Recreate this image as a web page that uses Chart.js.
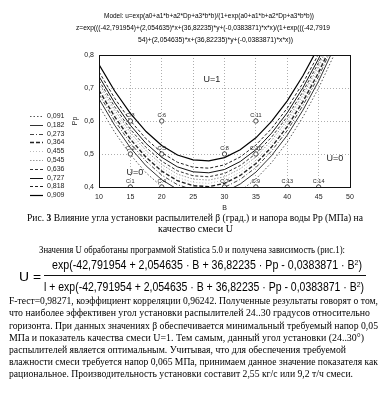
<!DOCTYPE html>
<html><head><meta charset="utf-8">
<script src="https://cdn.jsdelivr.net/npm/chart.js@4/dist/chart.umd.min.js"></script>
<style>
html,body{margin:0;padding:0;background:#fff;width:386px;height:394px;overflow:hidden;}
#wrap{position:relative;width:386px;height:394px;}
canvas{position:absolute;left:0;top:0;}
.ln{position:absolute;white-space:nowrap;color:#000;line-height:1;}
.sans{font-family:"Liberation Sans",Arial,sans-serif;}
.serif{font-family:"Liberation Serif","Times New Roman",serif;}
.bar{position:absolute;height:1px;background:#111;}
sup{font-size:0.65em;vertical-align:0.55em;line-height:0;}
</style></head>
<body><div id="wrap">
<canvas id="c" width="386" height="217"></canvas>

<div class="ln sans" data-x="104" data-w="210" data-y="16" style="font-size:6.5px">Model: u=exp(a0+a1*b+a2*Dp+a3*b*b)/(1+exp(a0+a1*b+a2*Dp+a3*b*b))</div>
<div class="ln sans" data-x="76" data-w="254" data-y="28" style="font-size:6.5px">z=exp(((-42,791954)+(2,054635)*x+(36,82235)*y+(-0,0383871)*x*x)/(1+exp(((-42,7919</div>
<div class="ln sans" data-x="138" data-w="155" data-y="40" style="font-size:6.5px">54)+(2,054635)*x+(36,82235)*y+(-0,0383871)*x*x))</div>

<div class="ln serif" data-x="27" data-w="336" data-y="218" style="font-size:10px">Рис. <b>3</b> Влияние угла установки распылителей β (град.) и напора воды Рр (МПа) на</div>
<div class="ln serif" data-x="158" data-w="75" data-y="229" style="font-size:10px">качество смеси U</div>

<div class="ln serif" data-x="39" data-w="306" data-y="250" style="font-size:10px">Значения U обработаны программой Statistica 5.0 и получена зависимость (рис.1):</div>
<div class="ln sans" data-x="19" data-w="22" data-y="276" style="font-size:13px">U =</div>
<div class="ln sans" data-x="52" data-w="310" data-y="265" style="font-size:12.5px">exp(-42,791954 + 2,054635 · B + 36,82235 · Pp - 0,0383871 · B<sup>2</sup>)</div>
<div class="bar" style="left:44px;top:275px;width:322px"></div>
<div class="ln sans" data-x="44" data-w="320" data-y="287" style="font-size:12.5px">l + exp(-42,791954 + 2,054635 · B + 36,82235 · Pp - 0,0383871 · B<sup>2</sup>)</div>

<div class="ln serif" data-x="9" data-w="369" data-y="301" style="font-size:10px">F-тест=0,98271, коэффициент корреляции 0,96242. Полученные результаты говорят о том,</div>
<div class="ln serif" data-x="9" data-w="361" data-y="313" style="font-size:10px">что наиболее эффективен угол установки распылителей 24..30 градусов относительно</div>
<div class="ln serif" data-x="9" data-w="369" data-y="326" style="font-size:10px">горизонта. При данных значениях β обеспечивается минимальный требуемый напор 0,05</div>
<div class="ln serif" data-x="9" data-w="355" data-y="338" style="font-size:10px">МПа и показатель качества смеси U=1. Тем самым, данный угол установки (24..30°)</div>
<div class="ln serif" data-x="9" data-w="337" data-y="350" style="font-size:10px">распылителей является оптимальным. Учитывая, что для обеспечения требуемой</div>
<div class="ln serif" data-x="9" data-w="369" data-y="362" style="font-size:10px">влажности смеси требуется напор 0,065 МПа, принимаем данное значение показателя как</div>
<div class="ln serif" data-x="9" data-w="344" data-y="374" style="font-size:10px">рациональное. Производительность установки составит 2,55 кг/с или 9,2 т/ч смеси.</div>
</div>
<script>
// ---- data ----
const bValues = [10, 12.5, 15, 17.5, 20, 22.5, 25, 27.5, 30, 32.5, 35, 37.5, 40, 42.5, 45, 47.5, 50];
const levelLabels = ['0,091','0,182','0,273','0,364','0,455','0,545','0,636','0,727','0,818','0,909'];
const pp0091 = [0.646,0.566,0.498,0.443,0.401,0.372,0.357,0.354,0.364,0.388,0.424,0.474,0.536,0.612,0.700,0.802,0.917];
const pp0182 = [0.667,0.587,0.519,0.464,0.422,0.393,0.378,0.375,0.385,0.409,0.445,0.495,0.557,0.633,0.721,0.823,0.938];
const pp0273 = [0.681,0.601,0.533,0.478,0.436,0.407,0.392,0.389,0.399,0.423,0.459,0.509,0.571,0.647,0.735,0.837,0.952];
const pp0364 = [0.693,0.613,0.545,0.490,0.448,0.419,0.404,0.401,0.411,0.435,0.471,0.521,0.583,0.659,0.747,0.849,0.964];
const pp0455 = [0.703,0.623,0.555,0.500,0.458,0.429,0.414,0.411,0.421,0.445,0.481,0.531,0.593,0.669,0.757,0.859,0.974];
const pp0545 = [0.713,0.633,0.565,0.510,0.468,0.439,0.424,0.421,0.431,0.455,0.491,0.541,0.603,0.679,0.767,0.869,0.984];
const pp0636 = [0.723,0.643,0.575,0.520,0.478,0.449,0.434,0.431,0.441,0.465,0.501,0.551,0.613,0.689,0.777,0.879,0.994];
const pp0727 = [0.735,0.655,0.587,0.532,0.490,0.461,0.446,0.443,0.453,0.477,0.513,0.563,0.625,0.701,0.789,0.891,1.006];
const pp0818 = [0.749,0.669,0.601,0.546,0.504,0.475,0.460,0.457,0.467,0.491,0.527,0.577,0.639,0.715,0.803,0.905,1.020];
const pp0909 = [0.771,0.691,0.623,0.568,0.526,0.497,0.482,0.479,0.489,0.513,0.549,0.599,0.661,0.737,0.825,0.927,1.042];
const pointNames = ['C:1','C:2','C:3','C:4','C:5','C:6','C:7','C:8','C:9','C:10','C:11','C:13','C:14'];
const pointB  = [15, 15, 15, 20, 20, 20, 30, 30, 35, 35, 35, 40, 45];
const pointPp = [0.4,0.5,0.6,0.4,0.5,0.6,0.4,0.5,0.4,0.5,0.6,0.4,0.4];
const regionText = ['U=1','U=0','U=0'];
const regionB  = [28, 15.7, 47.6];
const regionPp = [0.725, 0.445, 0.487];
const xTicks = [10,15,20,25,30,35,40,45,50];
const yTicks = [0.4,0.5,0.6,0.7,0.8];

// ---- styles ----
const levelSeries = [pp0091,pp0182,pp0273,pp0364,pp0455,pp0545,pp0636,pp0727,pp0818,pp0909];
const levelStyle = [
  {c:'#555', w:1,   d:[1.5,2]},
  {c:'#333', w:1,   d:[]},
  {c:'#444', w:1,   d:[4,2,1,2]},
  {c:'#222', w:1.4, d:[4,2]},
  {c:'#bbb', w:1,   d:[1,2]},
  {c:'#999', w:1,   d:[1.5,1.5]},
  {c:'#333', w:1,   d:[3,2]},
  {c:'#111', w:1,   d:[]},
  {c:'#222', w:1,   d:[3,2]},
  {c:'#000', w:1.2, d:[]}
];

const datasets = [{
  type:'scatter', label:'points',
  data: pointB.map((b,i)=>({x:b, y:pointPp[i]})),
  pointRadius:2.2, pointBorderWidth:0.8, pointBorderColor:'#222', pointBackgroundColor:'#fff',
  showLine:false
}];
levelSeries.forEach((arr,k)=>{
  datasets.push({
    type:'line', label:levelLabels[k],
    data: bValues.map((b,i)=>({x:b, y:arr[i]})),
    borderColor: levelStyle[k].c, borderWidth: levelStyle[k].w, borderDash: levelStyle[k].d,
    pointRadius:0, fill:false, tension:0
  });
});

const extras = {
  id:'extras',
  afterDatasetsDraw(chart){
    const ctx = chart.ctx, a = chart.chartArea;
    const xs = chart.scales.x, ys = chart.scales.y;
    ctx.save();
    const meta = chart.getDatasetMeta(0);
    ctx.fillStyle = '#222';
    ctx.font = '5.5px "Liberation Sans", Arial, sans-serif';
    ctx.textAlign = 'center'; ctx.textBaseline = 'bottom';
    meta.data.forEach((el,i)=>{ ctx.fillText(pointNames[i], el.x, el.y - 3); });
    ctx.font = '9px "Liberation Sans", Arial, sans-serif';
    ctx.textBaseline = 'middle';
    regionText.forEach((t,i)=>{ ctx.fillText(t, xs.getPixelForValue(regionB[i]), ys.getPixelForValue(regionPp[i])); });
    ctx.strokeStyle = '#111'; ctx.lineWidth = 1; ctx.setLineDash([]);
    ctx.strokeRect(Math.round(a.left)+0.5, Math.round(a.top)+0.5, Math.round(a.right-a.left), Math.round(a.bottom-a.top));
    ctx.restore();
  },
  afterDraw(chart){
    const ctx = chart.ctx;
    ctx.save();
    ctx.font = '7px "Liberation Sans", Arial, sans-serif';
    ctx.textAlign = 'left'; ctx.textBaseline = 'middle';
    chart.data.datasets.slice(1).forEach((ds,i)=>{
      const y = Math.round(116 + i*8.8) + 0.5;
      ctx.strokeStyle = ds.borderColor; ctx.lineWidth = ds.borderWidth; ctx.setLineDash(ds.borderDash);
      ctx.beginPath(); ctx.moveTo(30, y); ctx.lineTo(43, y); ctx.stroke();
      ctx.fillStyle = '#222';
      ctx.fillText(ds.label, 47, y);
    });
    ctx.restore();
  }
};

new Chart(document.getElementById('c'), {
  data:{datasets},
  options:{
    responsive:false, animation:false, devicePixelRatio:1,
    layout:{padding:{left:69, right:36, top:55, bottom:3}},
    plugins:{legend:{display:false}, tooltip:{enabled:false}},
    scales:{
      x:{type:'linear', min:10, max:50,
        afterBuildTicks(s){ s.ticks = xTicks.map(v=>({value:v})); },
        afterFit(s){ s.height = 27; },
        ticks:{font:{size:7, family:'"Liberation Sans", Arial'}, color:'#222', padding:6},
        grid:{color:'#999', drawTicks:false, lineWidth:0.8},
        border:{display:false, dash:[1,2]},
        title:{display:true, text:'B', font:{size:7, family:'"Liberation Sans", Arial'}, color:'#222', padding:{top:0,bottom:2}}
      },
      y:{type:'linear', min:0.4, max:0.8,
        afterBuildTicks(s){ s.ticks = yTicks.map(v=>({value:v})); },
        afterFit(s){ s.width = 30; },
        ticks:{font:{size:7, family:'"Liberation Sans", Arial'}, color:'#222', padding:5,
          callback:v=>v.toFixed(1).replace('.',',')},
        grid:{color:'#999', drawTicks:false, lineWidth:0.8},
        border:{display:false, dash:[1,2]},
        title:{display:true, text:'Pp', font:{size:7, family:'"Liberation Sans", Arial'}, color:'#222', padding:{top:2,bottom:0}}
      }
    }
  },
  plugins:[extras]
});

document.querySelectorAll('.ln').forEach(el=>{
  const x=+el.dataset.x, w=+el.dataset.w, y=+el.dataset.y;
  el.style.left = x+'px';
  const r = el.getBoundingClientRect();
  el.style.top = (y - r.height/2)+'px';
  el.style.transformOrigin = '0 50%';
  el.style.transform = 'scaleX('+(w/r.width)+')';
});
</script>
</body></html>
